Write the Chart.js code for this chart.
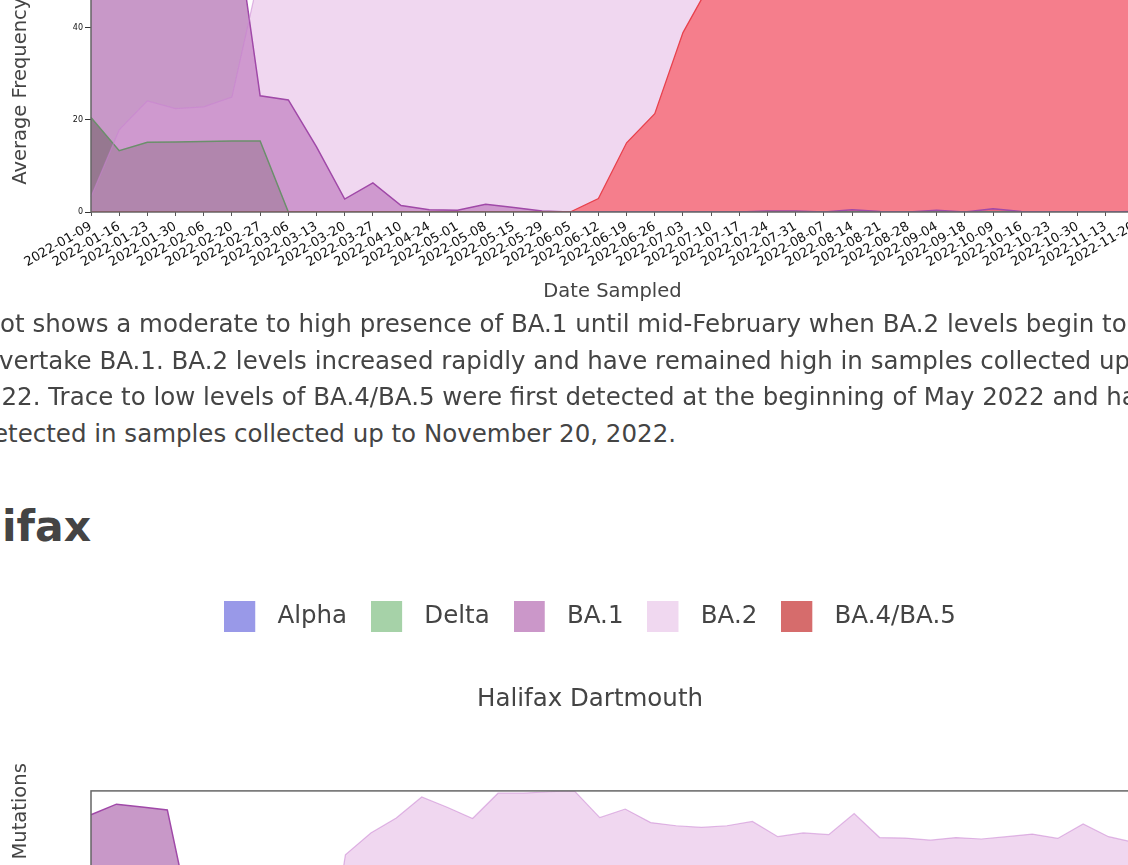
<!DOCTYPE html>
<html>
<head>
<meta charset="utf-8">
<title>Halifax</title>
<script src="https://cdn.jsdelivr.net/npm/chart.js@4.4.1/dist/chart.umd.min.js"></script>
<style>
html, body { margin:0; padding:0; overflow:hidden; }
body { width:1128px; height:865px; position:relative; background:#fff; font-family:"DejaVu Sans", sans-serif; color:#444; }
.line { position:absolute; white-space:nowrap; font-size:24.5px; line-height:36.7px; }
.cut { position:absolute; right:100%; top:0; }
h2 { position:absolute; margin:0; font-size:42.5px; line-height:42px; font-weight:bold; white-space:nowrap; }
canvas { position:absolute; left:0; }
</style>
</head>
<body>

<canvas id="chart1" width="1180" height="478" style="top:-170px"></canvas>

<div class="line" style="left:0; top:306px"><span class="cut">The pl</span>ot shows a moderate to high presence of BA.1 until mid-February when BA.2 levels begin to</div>
<div class="line" style="left:-1px; top:342.7px"><span class="cut">o</span>vertake BA.1. BA.2 levels increased rapidly and have remained high in samples collected up to November 20,</div>
<div class="line" style="left:1.5px; top:379.4px"><span class="cut">20</span>22. Trace to low levels of BA.4/BA.5 were first detected at the beginning of May 2022 and have been</div>
<div class="line" style="left:-7px; top:416.1px"><span class="cut">d</span>etected in samples collected up to November 20, 2022.</div>

<h2 style="left:2px; top:506px"><span class="cut">Hal</span>ifax</h2>

<canvas id="chart2" width="1180" height="606" style="top:540px"></canvas>

<script>
const variants = ["Alpha", "Delta", "BA.1", "BA.2", "BA.4/BA.5"];

// first site (section above Halifax)
const dates1 = [
  "2022-01-09","2022-01-16","2022-01-23","2022-01-30","2022-02-06","2022-02-20","2022-02-27",
  "2022-03-06","2022-03-13","2022-03-20","2022-03-27","2022-04-10","2022-04-24","2022-05-01",
  "2022-05-08","2022-05-15","2022-05-29","2022-06-05","2022-06-12","2022-06-19","2022-06-26",
  "2022-07-03","2022-07-10","2022-07-17","2022-07-24","2022-07-31","2022-08-07","2022-08-14",
  "2022-08-21","2022-08-28","2022-09-04","2022-09-18","2022-10-09","2022-10-16","2022-10-23",
  "2022-10-30","2022-11-13","2022-11-20"
];
const alpha1 = [0,0,0,0,0,0,0,0,0,0,0,0,0,0,0,0,0,0,0,0,0,0,0,0,0,0,0,0,0,0,0,0,0,0,0,0,0,0];
const delta1 = [20.5,13.3,15.1,15.2,15.3,15.4,15.4,0,0,0,0,0,0,0,0,0,0,0,0,0,0,0,0,0,0,0,0,0,0,0,0,0,0,0,0,0,0,0];
const ba1_1 = [75,78,77,76,74,68.4,25.2,24.3,14.1,2.8,6.3,1.4,0.5,0.4,1.7,1.0,0.2,0,0,0,0,0,0,0,0.2,0.2,0,0.5,0.1,0,0.4,0,0.7,0.1,0,0,0,0.1];
const ba2_1 = [3.3,17.8,24.1,22.4,22.8,24.9,52.4,66,72,75,76,77,78,78,79,79,79,78,78,78,77,77,77,76,76,76,76,75,75,76,76,75,75,75,74,74,74,74];
const ba45_1 = [0,0,0,0,0,0,0,0,0,0,0,0,0,0,0,0,0,0,2.9,15.0,21.3,38.9,49.9,58,64,68,70,71,72,72,73,73,73,72,72,72,71,71];

// Halifax Dartmouth
const dates2 = [
  "2022-01-09","2022-01-16","2022-01-23","2022-01-30","2022-02-06","2022-02-13","2022-02-20",
  "2022-02-27","2022-03-06","2022-03-13","2022-03-20","2022-03-27","2022-04-03","2022-04-10",
  "2022-04-17","2022-04-24","2022-05-01","2022-05-08","2022-05-15","2022-05-22","2022-05-29",
  "2022-06-05","2022-06-12","2022-06-19","2022-06-26","2022-07-03","2022-07-10","2022-07-17",
  "2022-07-24","2022-07-31","2022-08-07","2022-08-14","2022-08-21","2022-08-28","2022-09-04",
  "2022-09-18","2022-10-09","2022-10-16","2022-10-23","2022-10-30","2022-11-13","2022-11-20"
];
const alpha2 = [0,0,0,0,0,0,0,0,0,0,0,0,0,0,0,0,0,0,0,0,0,0,0,0,0,0,0,0,0,0,0,0,0,0,0,0,0,0,0,0,0,0];
const delta2 = [16,12,10,9,8,7,5,3,0,0,0,0,0,0,0,0,0,0,0,0,0,0,0,0,0,0,0,0,0,0,0,0,0,0,0,0,0,0,0,0,0,0];
const ba1_2 = [81.7,85.4,84.4,83.4,41.9,8,2,0.5,0,0,0,0,0,0,0,0,0,0,0,0,0,0,0,0,0,0,0,0,0,0,0,0,0,0,0,0,0,0,0,0,0,0];
const ba2_2 = [0,0,0.4,1.2,2.5,3.1,3.5,4.2,5.0,10.7,67.8,75.4,80.6,87.9,84.3,80.4,89.2,89.2,89.7,90,
  80.7,83.7,79.0,77.9,77.3,77.9,79.4,74.1,75.4,74.8,82.1,73.8,73.6,72.9,73.8,73.3,74.1,75.0,73.5,78.5,74.1,72.1];
const ba45_2 = [0,0,0,0,0,0,0,0,0,0,0,0,0,0,0,0,0,0,0,0,0,0,2,8,16,24,31,37,42,46,49,51,53,54,55,56,56,57,57,58,58,58];

// styles
const fillColors = ["rgba(120,120,225,0.5)","rgba(70,137,48,0.6)","rgba(155,68,155,0.55)","rgba(218,156,218,0.4)","rgba(248,69,73,0.6)"];
const lineColors = ["#7b7bd8","#6b8f6b","#a049a8","rgba(200,130,210,0.55)","#e8424e"];
const lineWidths = [1, 1.5, 1.5, 1.2, 1.3];
const legendColors = ["#9999e8","#a6d2a8","#cb97c9","#f0d8f0","#d66c6c"];
const drawOrder = [5, 4, 3, 2, 1];

Chart.defaults.font.family = "'DejaVu Sans', sans-serif";
Chart.defaults.color = "#444";

const frame = {
  id: "frame",
  afterDatasetsDraw(chart) {
    const {ctx, chartArea: a} = chart;
    ctx.save();
    ctx.strokeStyle = "#666";
    ctx.lineWidth = 1.5;
    ctx.strokeRect(a.left, a.top, a.right - a.left, a.bottom - a.top);
    ctx.restore();
  }
};

function swatch(color) {
  const c = document.createElement("canvas");
  c.width = 41;
  c.height = 31;
  const g = c.getContext("2d");
  g.fillStyle = color;
  g.fillRect(0, 0, 31, 31);
  return c;
}

function makeDatasets(series) {
  return variants.map((name, i) => ({
    label: name,
    data: series[i],
    yAxisID: "y",
    order: drawOrder[i],
    fill: "origin",
    backgroundColor: fillColors[i],
    borderColor: lineColors[i],
    borderWidth: lineWidths[i],
    pointRadius: 0,
    tension: 0
  }));
}

function makeScales(yMax, topTick) {
  return {
    x: {
      grid: {drawOnChartArea: false, color: "#555", tickLength: 4},
      border: {display: false},
      ticks: {autoSkip: false, minRotation: 30, maxRotation: 30, color: "#111", font: {size: 13}, padding: 3},
      title: {display: true, text: "Date Sampled", color: "#444", font: {size: 19.5}, padding: {top: 4, bottom: 4}},
      afterFit: s => { s.height = 96; }
    },
    y: {
      min: 0,
      max: yMax,
      grid: {drawOnChartArea: false, color: "#333", tickLength: 6},
      border: {display: false},
      ticks: {stepSize: 20, includeBounds: false, color: "#111", font: {size: 8}, padding: 2},
      title: {display: true, text: "Average Frequency of Mutations", color: "#444", font: {size: 19.5}, padding: {top: 9, bottom: 0}},
      afterBuildTicks: s => { s.ticks = s.ticks.filter(t => t.value <= topTick); },
      afterFit: s => { s.width = 91; }
    },
    pad: {
      position: "right",
      grid: {display: false},
      border: {display: false},
      ticks: {display: false},
      afterFit: s => { s.width = 46; }
    }
  };
}

new Chart(document.getElementById("chart1"), {
  type: "line",
  data: {
    labels: dates1,
    datasets: makeDatasets([alpha1, delta1, ba1_1, ba2_1, ba45_1])
  },
  options: {
    responsive: false,
    animation: false,
    layout: {padding: {top: 13}},
    scales: makeScales(80, 80),
    plugins: {
      legend: {display: false},
      title: {display: false},
      tooltip: {enabled: false},
      filler: {drawTime: "beforeDatasetsDraw"}
    }
  },
  plugins: [frame]
});

new Chart(document.getElementById("chart2"), {
  type: "line",
  data: {
    labels: dates2,
    datasets: makeDatasets([alpha2, delta2, ba1_2, ba2_2, ba45_2])
  },
  options: {
    responsive: false,
    animation: false,
    layout: {padding: {top: 40}},
    scales: makeScales(90, 60),
    plugins: {
      legend: {
        position: "top",
        weight: 3000,
        labels: {
          usePointStyle: true,
          pointStyleWidth: 41,
          padding: 24,
          color: "#444",
          font: {size: 24.5},
          generateLabels: chart => chart.data.datasets.map((ds, i) => ({
            text: ds.label,
            pointStyle: swatch(legendColors[i]),
            fillStyle: legendColors[i],
            strokeStyle: legendColors[i],
            fontColor: "#444",
            lineWidth: 0,
            hidden: false,
            datasetIndex: i
          }))
        }
      },
      title: {
        display: true,
        text: "Halifax Dartmouth",
        color: "#444",
        font: {size: 24.5, weight: "normal"},
        padding: {top: 46, bottom: 77}
      },
      tooltip: {enabled: false},
      filler: {drawTime: "beforeDatasetsDraw"}
    }
  },
  plugins: [frame]
});
</script>
</body>
</html>
